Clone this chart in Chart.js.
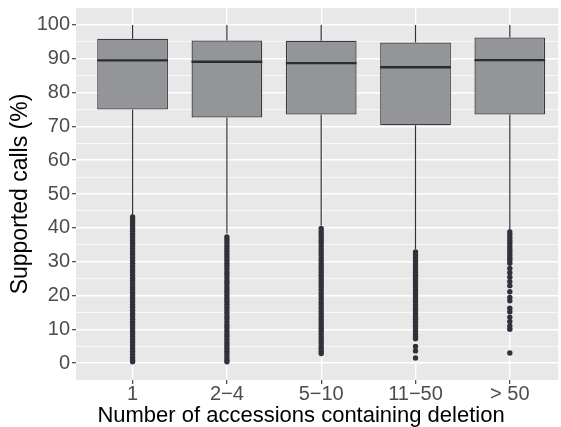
<!DOCTYPE html>
<html>
<head>
<meta charset="utf-8">
<script src="https://cdn.jsdelivr.net/npm/chart.js@4/dist/chart.umd.min.js"></script>
<style>
  html, body { margin: 0; padding: 0; background: #ffffff; overflow: hidden; }
  #wrap { width: 561px; height: 427px; position: relative; }
</style>
</head>
<body>
<div id="wrap"><canvas id="c"></canvas></div>
<script>
// Groups on the x axis
const categories = ['1', '2\u22124', '5\u221210', '11\u221250', '> 50'];
const xTitle = 'Number of accessions containing deletion';

// Box statistics per group (supported calls, %)
const whiskerLow = [43.8, 38.3, 40.7, 33.7, 39.0];
const q1         = [75.0, 72.6, 73.5, 70.3, 73.5];
const median     = [89.5, 89.1, 88.7, 87.5, 89.6];
const q3         = [95.9, 95.4, 95.3, 94.8, 96.3];
const whiskerHigh = [100, 100, 100, 100, 100];

// Outlying observations per group
const outliers1 = [43.2, 42.4, 41.5, 40.7, 39.9, 39.0, 38.1, 37.3, 36.4, 35.5, 34.7, 33.8, 32.9, 32.1, 31.2,
  30.3, 29.5, 28.6, 27.7, 26.9, 26.0, 25.1, 24.3, 23.4, 22.5, 21.7, 20.8, 19.9, 19.1, 18.2, 17.3, 16.5,
  15.6, 14.7, 13.9, 13.0, 12.1, 11.3, 10.4, 9.5, 8.7, 7.8, 6.9, 6.1, 5.2, 4.3, 3.5, 2.6, 1.7, 0.9, 0.4];
const outliers2 = [37.3, 36.5, 35.6, 34.7, 33.9, 33.0, 32.1, 31.3, 30.4, 29.5, 28.7, 27.8, 26.9, 26.1, 25.2,
  24.3, 23.5, 22.6, 21.7, 20.9, 20.0, 19.1, 18.3, 17.4, 16.5, 15.7, 14.8, 13.9, 13.1, 12.2, 11.3, 10.5,
  9.6, 8.7, 7.9, 7.0, 6.1, 5.3, 4.4, 3.5, 2.7, 1.8, 1.0, 0.4];
const outliers3 = [39.8, 38.9, 38.1, 37.2, 36.3, 35.5, 34.6, 33.7, 32.9, 32.0, 31.1, 30.3, 29.4, 28.5, 27.7,
  26.8, 25.9, 25.1, 24.2, 23.3, 22.5, 21.6, 20.7, 19.9, 19.0, 18.1, 17.3, 16.4, 15.5, 14.7, 13.8, 12.9,
  12.1, 11.2, 10.3, 9.5, 8.6, 7.7, 6.9, 6.0, 5.1, 4.3, 3.5, 2.8];
const outliers4 = [32.9, 32.0, 31.2, 30.3, 29.4, 28.6, 27.7, 26.8, 26.0, 25.1, 24.2, 23.4, 22.5, 21.6, 20.8,
  19.9, 19.0, 18.2, 17.3, 16.4, 15.6, 14.7, 13.8, 13.0, 12.1, 11.2, 10.4, 9.5, 8.6, 7.8, 7.2,
  4.9, 3.6, 1.5];
const outliers5 = [38.8, 38.0, 37.1, 36.2, 35.4, 34.5, 33.6, 32.8, 31.9, 31.0, 30.3, 29.5, 28.0, 26.7, 25.4,
  24.1, 22.9, 21.1, 19.4, 18.4, 16.2, 15.2, 13.6, 12.3, 11.0, 10.0, 3.0];
const outlierGroups = [outliers1, outliers2, outliers3, outliers4, outliers5];

// Axis ticks
const yMajorTicks = [0, 10, 20, 30, 40, 50, 60, 70, 80, 90, 100];
const yMinorTicks = [5, 15, 25, 35, 45, 55, 65, 75, 85, 95];

const BOX_HALF = 0.375;

const boxData = categories.map((_, i) => ({ x: i, y: [q1[i], q3[i]] }));
const whiskerData = [];
const medianData = [];
categories.forEach((_, i) => {
  whiskerData.push({ x: i, y: whiskerHigh[i] }, { x: i, y: q3[i] }, { x: i, y: null });
  whiskerData.push({ x: i, y: q1[i] }, { x: i, y: whiskerLow[i] }, { x: i, y: null });
  medianData.push({ x: i - BOX_HALF, y: median[i] }, { x: i + BOX_HALF, y: median[i] }, { x: i, y: null });
});
const outlierData = [];
outlierGroups.forEach((vals, i) => vals.forEach(v => outlierData.push({ x: i, y: v })));

const fontFamily = '"Liberation Sans", Arial, Helvetica, sans-serif';

const panelBackground = {
  id: 'panelBackground',
  beforeDraw(chart) {
    const { ctx, chartArea: a } = chart;
    ctx.save();
    ctx.fillStyle = '#E8E8E8';
    ctx.fillRect(a.left, a.top, a.right - a.left, a.bottom - a.top);
    ctx.restore();
  }
};

// x-axis title, set slightly left of the panel centre
const xAxisTitle = {
  id: 'xAxisTitle',
  afterDraw(chart) {
    const { ctx, chartArea: a } = chart;
    ctx.save();
    ctx.fillStyle = '#000000';
    ctx.font = '22px ' + fontFamily;
    ctx.textAlign = 'center';
    ctx.textBaseline = 'middle';
    ctx.fillText(xTitle, a.left + 225, a.bottom + 36);
    ctx.restore();
  }
};

const isMajor = v => yMajorTicks.includes(v);

new Chart(document.getElementById('c'), {
  type: 'bar',
  data: {
    datasets: [
      {
        type: 'line', data: whiskerData, order: 4,
        borderColor: '#333333', borderWidth: 1.2, pointRadius: 0, spanGaps: false
      },
      {
        type: 'bar', data: boxData, order: 3,
        backgroundColor: '#939598', borderColor: '#3a3b40', borderWidth: 1.3,
        borderSkipped: false, barPercentage: 0.75, categoryPercentage: 1
      },
      {
        type: 'line', data: medianData, order: 2,
        borderColor: '#2b2c31', borderWidth: 2.4, pointRadius: 0, spanGaps: false
      },
      {
        type: 'line', data: outlierData, order: 1, showLine: false,
        pointRadius: 2.7, pointBorderWidth: 0, pointBackgroundColor: '#30313a',
        pointHoverRadius: 2.7
      }
    ]
  },
  options: {
    responsive: true,
    maintainAspectRatio: false,
    animation: false,
    events: [],
    layout: { padding: { top: 7, right: 0, bottom: 0, left: 0 } },
    plugins: { legend: { display: false }, tooltip: { enabled: false } },
    scales: {
      x: {
        type: 'linear',
        min: -0.6,
        max: 4.514,
        offset: false,
        afterBuildTicks: s => { s.ticks = categories.map((_, i) => ({ value: i })); },
        afterFit: s => { s.height = 47; },
        border: { display: false },
        grid: {
          offset: false,
          color: '#ffffff', lineWidth: 1.4,
          drawTicks: true, tickLength: 4, tickColor: '#333333', tickWidth: 1.1
        },
        ticks: {
          autoSkip: false, maxRotation: 0, padding: 0,
          color: '#4d4d4d', font: { family: fontFamily, size: 20, lineHeight: 1.0 },
          callback: v => categories[v]
        },
        title: { display: false }
      },
      y: {
        type: 'linear',
        min: -5,
        max: 105,
        afterBuildTicks: s => {
          s.ticks = yMajorTicks.concat(yMinorTicks).sort((a, b) => a - b).map(v => ({ value: v }));
        },
        afterFit: s => { s.width = 76; },
        border: { display: false },
        grid: {
          color: '#ffffff',
          lineWidth: c => (c.tick && isMajor(c.tick.value)) ? 1.4 : 0.7,
          drawTicks: true, tickLength: 4,
          tickColor: c => (c.tick && isMajor(c.tick.value)) ? '#333333' : 'rgba(0,0,0,0)',
          tickWidth: 1.1
        },
        ticks: {
          autoSkip: false, padding: 2,
          color: '#4d4d4d', font: { family: fontFamily, size: 20, lineHeight: 0.6 },
          callback: v => isMajor(v) ? String(v) : ''
        },
        title: {
          display: true, text: 'Supported calls (%)',
          color: '#000000', font: { family: fontFamily, size: 23 },
          padding: { top: 7, bottom: 0 }
        }
      }
    }
  },
  plugins: [panelBackground, xAxisTitle]
});
</script>
</body>
</html>
